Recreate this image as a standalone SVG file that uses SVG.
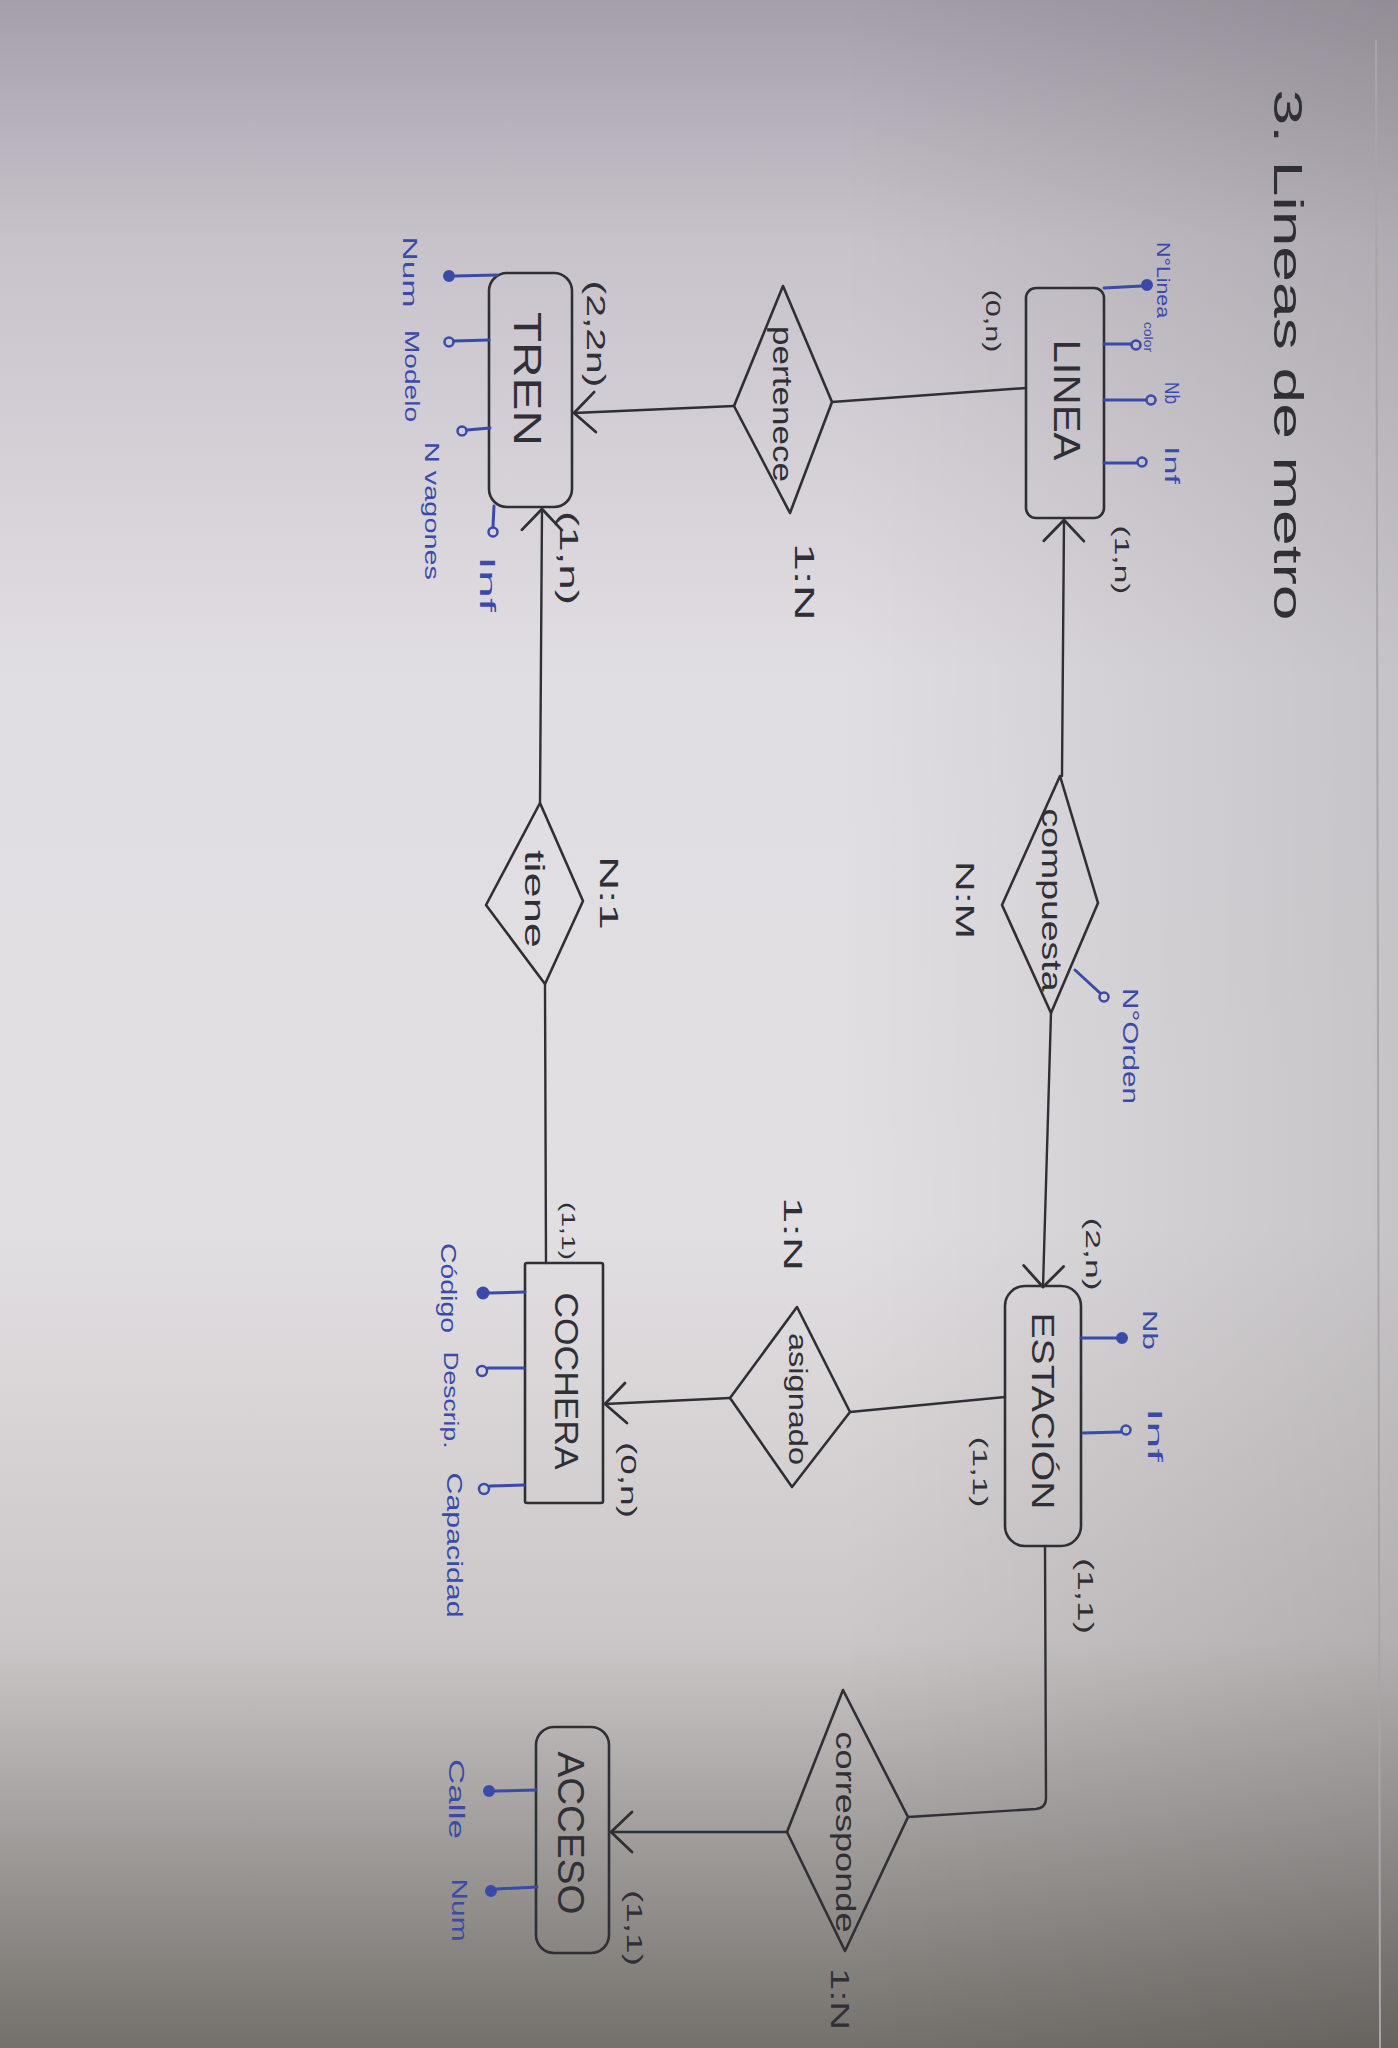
<svg xmlns="http://www.w3.org/2000/svg" width="1398" height="2048" viewBox="0 0 1398 2048">
<defs>
<linearGradient id="bg" x1="0" y1="0" x2="0" y2="1">
<stop offset="0" stop-color="#a59fa9"/>
<stop offset="0.12" stop-color="#c8c3cb"/>
<stop offset="0.33" stop-color="#e1dee3"/>
<stop offset="0.6" stop-color="#e2dfe2"/>
<stop offset="0.8" stop-color="#cbc7c8"/>
<stop offset="1" stop-color="#74706b"/>
</linearGradient>
<linearGradient id="side" x1="0" y1="0" x2="1" y2="0">
<stop offset="0" stop-color="#000" stop-opacity="0"/>
<stop offset="0.6" stop-color="#000" stop-opacity="0"/>
<stop offset="1" stop-color="#000" stop-opacity="0.12"/>
</linearGradient>
<marker id="arr" markerUnits="userSpaceOnUse" viewBox="0 0 26 44" markerWidth="26" markerHeight="44" refX="23" refY="22" orient="auto">
<path d="M2,2 L23,22 L2,42" fill="none" stroke="#2f2f35" stroke-width="2.8" stroke-linecap="round" stroke-linejoin="round"/>
</marker>
<style>
.t{font-family:"Liberation Sans","DejaVu Sans",sans-serif;text-anchor:middle;dominant-baseline:central;fill:#2f2f35}
.b{fill:#3a4aa8}
.shape{fill:none;stroke:#2f2f35;stroke-width:2.6;stroke-linejoin:round}
.con{fill:none;stroke:#2f2f35;stroke-width:2.4;stroke-linecap:round}
.att{fill:none;stroke:#3a4aa8;stroke-width:3;stroke-linecap:round}
.key{fill:#3a4aa8;stroke:#3a4aa8;stroke-width:2}
.opt{fill:none;stroke:#3a4aa8;stroke-width:2.5}
</style>
</defs>
<rect x="0" y="0" width="1398" height="2048" fill="url(#bg)"/>
<rect x="0" y="0" width="1398" height="2048" fill="url(#side)"/>
<line x1="1376" y1="40" x2="1380" y2="2048" stroke="#a9a4a8" stroke-width="2"/>

<g id="title">
<text class="t" font-size="40" transform="translate(1288,355) rotate(90)" textLength="531" lengthAdjust="spacingAndGlyphs">3. Lineas de metro</text>
</g>

<g id="connectors">
<path class="con" d="M1026,388 L832,402"/>
<path class="con" d="M734,406 L574,413" marker-end="url(#arr)"/>
<path class="con" d="M1062,776 L1064,520" marker-end="url(#arr)"/>
<path class="con" d="M1051,1013 L1043,1287" marker-end="url(#arr)"/>
<path class="con" d="M540,803 L542,509" marker-end="url(#arr)"/>
<path class="con" d="M545,984 L546,1263"/>
<path class="con" d="M1005,1397 L850,1412"/>
<path class="con" d="M730,1398 L605,1404" marker-end="url(#arr)"/>
<path class="con" d="M1045,1546 L1046,1798 Q1046,1808 1036,1809 L908,1817"/>
<path class="con" d="M787,1832 L611,1832" marker-end="url(#arr)"/>
</g>

<g id="linea">
<rect class="shape" x="1026" y="288" width="78" height="230" rx="10"/>
<text class="t" font-size="36" transform="translate(1066,400) rotate(90)" textLength="121" lengthAdjust="spacingAndGlyphs">LINEA</text>
<line class="att" x1="1104" y1="288" x2="1142" y2="286"/><circle class="key" cx="1147" cy="285" r="5"/>
<line class="att" x1="1104" y1="344" x2="1131" y2="344"/><circle class="opt" cx="1136" cy="345" r="4.5"/>
<line class="att" x1="1104" y1="400" x2="1146" y2="400"/><circle class="opt" cx="1151" cy="400" r="4.5"/>
<line class="att" x1="1104" y1="463" x2="1137" y2="463"/><circle class="opt" cx="1142" cy="462" r="4.5"/>
<text class="t b" font-size="19" transform="translate(1163,280) rotate(90)" textLength="76" lengthAdjust="spacingAndGlyphs">N°Linea</text>
<text class="t b" font-size="12" transform="translate(1148,337) rotate(90)" textLength="30" lengthAdjust="spacingAndGlyphs">color</text>
<text class="t b" font-size="20" transform="translate(1172,393) rotate(90)" textLength="22" lengthAdjust="spacingAndGlyphs">Nb</text>
<text class="t b" font-size="20" transform="translate(1172,465) rotate(90)" textLength="38" lengthAdjust="spacingAndGlyphs">Inf</text>
<text class="t" font-size="20" transform="translate(993,321) rotate(90)" textLength="63" lengthAdjust="spacingAndGlyphs">(0,n)</text>
<text class="t" font-size="20" transform="translate(1122,560) rotate(90)" textLength="69" lengthAdjust="spacingAndGlyphs">(1,n)</text>
</g>

<g id="pertenece">
<polygon class="shape" points="783,286 832,402 790,513 734,406"/>
<text class="t" font-size="27" transform="translate(782,404) rotate(90)" textLength="156" lengthAdjust="spacingAndGlyphs">pertenece</text>
<text class="t" font-size="28" transform="translate(804,582) rotate(90)" textLength="78" lengthAdjust="spacingAndGlyphs">1:N</text>
</g>

<g id="tren">
<rect class="shape" x="489" y="273" width="83" height="234" rx="18"/>
<text class="t" font-size="38" transform="translate(527,379) rotate(90)" textLength="134" lengthAdjust="spacingAndGlyphs">TREN</text>
<text class="t" font-size="26" transform="translate(596,334) rotate(90)" textLength="107" lengthAdjust="spacingAndGlyphs">(2,2n)</text>
<text class="t" font-size="26" transform="translate(569,558) rotate(90)" textLength="94" lengthAdjust="spacingAndGlyphs">(1,n)</text>
<line class="att" x1="497" y1="275" x2="455" y2="276"/><circle class="key" cx="449" cy="276" r="5"/>
<line class="att" x1="489" y1="340" x2="454" y2="341"/><circle class="opt" cx="449" cy="342" r="4.5"/>
<line class="att" x1="490" y1="428" x2="467" y2="430"/><circle class="opt" cx="462" cy="431" r="4.5"/>
<line class="att" x1="494" y1="506" x2="493" y2="527"/><circle class="opt" cx="493" cy="532" r="4.5"/>
<text class="t b" font-size="21" transform="translate(410,272) rotate(90)" textLength="71" lengthAdjust="spacingAndGlyphs">Num</text>
<text class="t b" font-size="21" transform="translate(412,376) rotate(90)" textLength="92" lengthAdjust="spacingAndGlyphs">Modelo</text>
<text class="t b" font-size="21" transform="translate(432,511) rotate(90)" textLength="138" lengthAdjust="spacingAndGlyphs">N vagones</text>
<text class="t b" font-size="22" transform="translate(487,584) rotate(90)" textLength="56" lengthAdjust="spacingAndGlyphs">Inf</text>
</g>

<g id="tiene">
<polygon class="shape" points="540,803 583,901 545,984 486,905"/>
<text class="t" font-size="28" transform="translate(534,899) rotate(90)" textLength="98" lengthAdjust="spacingAndGlyphs">tiene</text>
<text class="t" font-size="26" transform="translate(609,893) rotate(90)" textLength="74" lengthAdjust="spacingAndGlyphs">N:1</text>
</g>

<g id="compuesta">
<polygon class="shape" points="1060,776 1098,903 1051,1013 1002,905"/>
<text class="t" font-size="28" transform="translate(1051,900) rotate(90)" textLength="183" lengthAdjust="spacingAndGlyphs">compuesta</text>
<text class="t" font-size="26" transform="translate(965,900) rotate(90)" textLength="78" lengthAdjust="spacingAndGlyphs">N:M</text>
<line class="att" x1="1075" y1="970" x2="1100" y2="993"/><circle class="opt" cx="1104" cy="997" r="4.5"/>
<text class="t b" font-size="22" transform="translate(1130,1046) rotate(90)" textLength="116" lengthAdjust="spacingAndGlyphs">N°Orden</text>
</g>

<g id="estacion">
<rect class="shape" x="1005" y="1286" width="76" height="260" rx="20"/>
<text class="t" font-size="32" transform="translate(1043,1411) rotate(90)" textLength="197" lengthAdjust="spacingAndGlyphs">ESTACIÓN</text>
<text class="t" font-size="20" transform="translate(1093,1254) rotate(90)" textLength="73" lengthAdjust="spacingAndGlyphs">(2,n)</text>
<text class="t" font-size="20" transform="translate(980,1472) rotate(90)" textLength="71" lengthAdjust="spacingAndGlyphs">(1,1)</text>
<text class="t" font-size="22" transform="translate(1085,1596) rotate(90)" textLength="76" lengthAdjust="spacingAndGlyphs">(1,1)</text>
<line class="att" x1="1081" y1="1338" x2="1117" y2="1338"/><circle class="key" cx="1122" cy="1338" r="5"/>
<line class="att" x1="1083" y1="1433" x2="1121" y2="1432"/><circle class="opt" cx="1126" cy="1430" r="4.5"/>
<text class="t b" font-size="20" transform="translate(1150,1330) rotate(90)" textLength="40" lengthAdjust="spacingAndGlyphs">Nb</text>
<text class="t b" font-size="20" transform="translate(1155,1435) rotate(90)" textLength="54" lengthAdjust="spacingAndGlyphs">Inf</text>
</g>

<g id="asignado">
<polygon class="shape" points="797,1307 850,1412 792,1487 730,1398"/>
<text class="t" font-size="26" transform="translate(798,1399) rotate(90)" textLength="132" lengthAdjust="spacingAndGlyphs">asignado</text>
<text class="t" font-size="26" transform="translate(793,1234) rotate(90)" textLength="74" lengthAdjust="spacingAndGlyphs">1:N</text>
</g>

<g id="cochera">
<rect class="shape" x="525" y="1263" width="78" height="240" rx="2"/>
<text class="t" font-size="34" transform="translate(567,1381) rotate(90)" textLength="177" lengthAdjust="spacingAndGlyphs">COCHERA</text>
<text class="t" font-size="18" transform="translate(568,1231) rotate(90)" textLength="58" lengthAdjust="spacingAndGlyphs">(1,1)</text>
<text class="t" font-size="22" transform="translate(628,1480) rotate(90)" textLength="76" lengthAdjust="spacingAndGlyphs">(0,n)</text>
<line class="att" x1="525" y1="1292" x2="489" y2="1293"/><circle class="key" cx="483" cy="1293" r="5.5"/>
<line class="att" x1="524" y1="1368" x2="488" y2="1368"/><circle class="opt" cx="482" cy="1371" r="5"/>
<line class="att" x1="524" y1="1485" x2="490" y2="1486"/><circle class="opt" cx="484" cy="1489" r="5"/>
<text class="t b" font-size="22" transform="translate(448,1288) rotate(90)" textLength="90" lengthAdjust="spacingAndGlyphs">Código</text>
<text class="t b" font-size="20" transform="translate(451,1400) rotate(90)" textLength="97" lengthAdjust="spacingAndGlyphs">Descrip.</text>
<text class="t b" font-size="22" transform="translate(454,1545) rotate(90)" textLength="145" lengthAdjust="spacingAndGlyphs">Capacidad</text>
</g>

<g id="corresponde">
<polygon class="shape" points="843,1690 908,1817 845,1951 787,1832"/>
<text class="t" font-size="28" transform="translate(845,1832) rotate(90)" textLength="201" lengthAdjust="spacingAndGlyphs">corresponde</text>
<text class="t" font-size="26" transform="translate(840,1999) rotate(90)" textLength="62" lengthAdjust="spacingAndGlyphs">1:N</text>
</g>

<g id="acceso">
<rect class="shape" x="536" y="1727" width="73" height="226" rx="18"/>
<text class="t" font-size="36" transform="translate(570,1833) rotate(90)" textLength="163" lengthAdjust="spacingAndGlyphs">ACCESO</text>
<text class="t" font-size="22" transform="translate(634,1928) rotate(90)" textLength="76" lengthAdjust="spacingAndGlyphs">(1,1)</text>
<line class="att" x1="536" y1="1790" x2="495" y2="1791"/><circle class="key" cx="489" cy="1791" r="5"/>
<line class="att" x1="537" y1="1887" x2="497" y2="1889"/><circle class="key" cx="491" cy="1891" r="5"/>
<text class="t b" font-size="22" transform="translate(456,1799) rotate(90)" textLength="80" lengthAdjust="spacingAndGlyphs">Calle</text>
<text class="t b" font-size="22" transform="translate(459,1910) rotate(90)" textLength="63" lengthAdjust="spacingAndGlyphs">Num</text>
</g>
</svg>
